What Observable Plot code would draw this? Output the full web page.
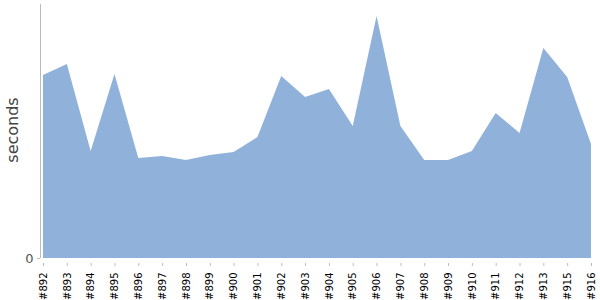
<!DOCTYPE html>
<html>
<head>
<meta charset="utf-8">
<script src="https://cdn.jsdelivr.net/npm/d3@7"></script>
<script src="https://cdn.jsdelivr.net/npm/@observablehq/plot@0.6"></script>
<style>
  html, body { margin: 0; padding: 0; background: #fff; }
</style>
</head>
<body>
<div id="chart"></div>
<script>
const builds = ["#892","#893","#894","#895","#896","#897","#898","#899","#900","#901","#902","#903","#904","#905","#906","#907","#908","#909","#910","#911","#912","#913","#915","#916"];
const seconds = [18.3,19.4,10.7,18.4,10.0,10.2,9.8,10.3,10.6,12.1,18.2,16.1,16.9,13.2,24.2,13.2,9.8,9.8,10.7,14.5,12.5,21.0,18.1,11.4];
const yTicks = [0];
const yMax = 25.4;

const data = builds.map((b, i) => ({build: b, seconds: seconds[i]}));

const chart = Plot.plot({
  width: 600,
  height: 300,
  marginLeft: 40,
  marginRight: 9,
  marginTop: 4,
  marginBottom: 37,
  insetLeft: 3,
  insetBottom: 5,
  style: {fontFamily: "DejaVu Sans", background: "white"},
  x: {type: "point", domain: builds, padding: 0, round: false},
  y: {domain: [0, yMax]},
  marks: [
    Plot.areaY(data, {x: "build", y: "seconds", fill: "#8fb1da"}),
    Plot.ruleY([0], {x1: builds[0], x2: builds[builds.length - 1], dy: 5, stroke: "#bbb"}),
    Plot.ruleX([builds[0]], {y1: 0, y2: yMax, dx: -3, stroke: "#bbb"}),
    Plot.axisX({tickSize: 3, tickRotate: -90, tickPadding: 6, fontSize: 10, fill: "black", stroke: "#bbb", label: null}),
    Plot.axisY({ticks: yTicks, tickSize: 3, tickPadding: 4, fontSize: 13, fill: "#555", stroke: "#bbb", label: null}),
    Plot.text(["seconds"], {frameAnchor: "left", textAnchor: "middle", rotate: -90, dx: -28, dy: -4, fontSize: 16, fill: "#444"})
  ]
});
document.getElementById("chart").appendChild(chart);
</script>
</body>
</html>
